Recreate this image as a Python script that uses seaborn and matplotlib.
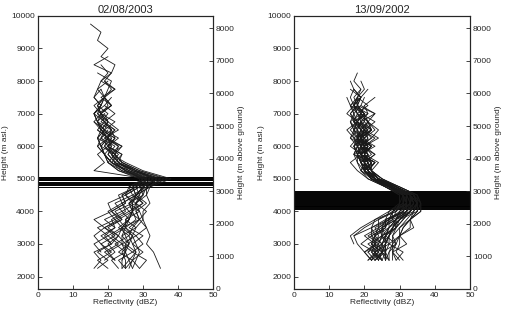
import numpy as np
import pandas as pd
import matplotlib
matplotlib.use('Agg')
import matplotlib.pyplot as plt
import seaborn as sns

nan = np.nan

# heights of the profile levels (m asl.)
left_height = [2250, 2500, 2750, 3000, 3250, 3500, 3750, 4000, 4250, 4500, 4750,
               5000, 5250, 5500, 5750, 6000, 6250, 6500, 6750, 7000, 7250, 7500,
               7750, 8000, 8250, 8500, 8750, 9000, 9250, 9500, 9750]
right_height = [2500, 2750, 3000, 3250, 3500, 3750, 4000, 4250, 4500, 4750, 5000,
                5250, 5500, 5750, 6000, 6250, 6500, 6750, 7000, 7250, 7500, 7750,
                8000, 8250]

# reflectivity profiles (dBZ), bottom level first
left_z = [
    [25, 23, 27, 24, 28, 25, 28, 27, 30, 27, 31, 33, 27, 22, 24, 20, 23, 19, 22, 18, 21, 18, 22, 19, 21, 22, 18, 20, 17, 18, 15],
    [17, 20, 17, 21, 18, 22, 21, 25, 24, 28, 27, 32, 25, 22, 21, 20, 22, 21, 19, 18, 20, 19, 17, 18, 21, 16, 20],
    [nan, 22, 20, 24, 21, 25, 23, 27, 26, 30, 29, 35, 28, 23, 21, 24, 19, 23, 20, 18, 21, 19, 22, 18, 20, 18],
    [35, 34, 33, 31, 32, 31, 30, 30, 32, 31, 31, 36, 29, 24, 22, 23, 20, 22, 19, 22, 19, 21],
    [20, 17, 21, 18, 16, 19, 16, 21, 20, 25, 26, 30, 23, 20, 19, 17, 18, 19, 17, 16, 18, 19, 20, 21, 17],
    [24, 24, 25, 26, 25, 24, 26, 27, 27, 28, 30, 31, 25, 21, 19, 21, 17, 19, 16, 18, 16, 19, 21, 19],
    [29, 27, 30, 27, 30, 26, 29, 28, 31, 28, 32, 34, 27, 23, 21, 19, 20, 21, 19, 17, 18, 16, 17, 20],
    [16, 18, 16, 21, 19, 22, 19, 24, 22, 27, 26, 31, 24, 20, 22, 18, 20, 17, 19, 16, 18, 16, 18],
    [25, 27, 23, 26, 24, 28, 25, 29, 26, 29, 28, 33, 26, 23, 22, 20, 21, 19, 20, 18, 17, 19, 18],
    [nan, 24, 25, 25, 23, 24, 26, 27, 27, 28, 30, 32, 26, 21, 23, 20, 22, 18, 20, 17, 21, 19],
    [nan, nan, 18, 16, 20, 17, 22, 20, 24, 23, 28, 30, 24, 21, 19, 18, 17, 19, 17, 16, 18, 19],
    [29, 31, 27, 30, 28, 31, 29, 31, 28, 31, 32, 38, 30, 25, 21, 23, 19, 22, 18, 20, 17, 19],
    [23, 21, 25, 22, 26, 23, 26, 24, 28, 25, 29, 29, 23, 20, 19, 18, 20, 18, 17, 16, 19],
    [27, 26, 25, 24, 24, 25, 26, 27, 28, 29, 30, 34, 27, 23, 24, 20, 22, 18, 20, 19],
    [nan, 19, 22, 20, 23, 19, 24, 21, 25, 24, 28, 30, 25, 22, 20, 21, 20, 18, 17, 18, 17],
    [25, 25, 24, 26, 27, 25, 25, 27, 26, 28, 30, 33, 28, 22, 20, 22, 18, 21, 17, 19],
    [nan, nan, 20, 18, 22, 19, 23, 21, 25, 24, 28, 30, 25, 21, 19, 18, 17, 18, 16],
    [24, 26, 28, 25, 27, 24, 29, 26, 30, 28, 32, 35, 28, 24, 22, 24, 20, 21],
    [nan, 22, 19, 23, 20, 24, 22, 26, 24, 28, 27, 31, 16, 19, 17, 20, 18, 20],
    [26, 27, 28, 27, 26, 27, 29, 28, 28, 30, 31, 37, 29, 24, 22, 19, 21],
    [nan, nan, nan, 21, 23, 20, 24, 22, 27, 25, 29, 31, 26, 21, 19, 17, 20, 17],
    [27, 28, 29, 28, 27, 28, 30, 29, 28, 30, 30, 34, 28, 23, 21],
]
right_z = [
    [22, 23, 24, 25, 27, 29, 31, 33, 32, 27, 22, 19, 21, 19, 17, 20, 17, 20, 18, 21, 18, 19, 17, 18],
    [25, 23, 27, 25, 29, 28, 33, 33, 33, 27, 23, 21, 20, 19, 20, 21, 19, 18, 19, 17, 18, 20, 19],
    [29, 28, 28, 30, 31, 33, 35, 36, 34, 29, 24, 21, 23, 19, 21, 18, 22, 19, 21, 17, 19, 17],
    [21, 23, 19, 22, 22, 27, 28, 32, 31, 26, 21, 19, 18, 17, 18, 16, 17, 18, 17, 16, 18],
    [24, 25, 26, 26, 28, 30, 33, 35, 34, 29, 23, 20, 22, 20, 22, 18, 21, 18, 20, 17, 19, 16],
    [nan, nan, 17, 16, 19, 23, 27, 31, 31, 26, 22, 20, 19, 18, 17, 18, 17, 16, 17, 16, 15],
    [30, 28, 32, 30, 34, 33, 36, 36, 35, 30, 25, 22, 20, 23, 20, 23, 19, 21, 19, 20],
    [23, 21, 25, 22, 26, 27, 31, 32, 32, 28, 23, 21, 20, 21, 19, 20, 18, 19, 18, 17, 18],
    [26, 26, 25, 27, 28, 29, 32, 34, 33, 28, 24, 21, 19, 21, 18, 22, 20, 23, 19],
    [22, 20, 24, 21, 25, 26, 31, 31, 32, 27, 22, 20, 18, 18, 19, 17, 17, 18, 16, 18],
    [27, 27, 28, 28, 30, 32, 34, 35, 33, 29, 24, 22, 20, 23, 19, 22, 24, 21],
    [25, 22, 25, 23, 27, 27, 32, 32, 32, 27, 22, 21, 20, 19, 18, 20, 19, 21, 20, 18, 19, 21],
    [nan, 20, 18, 17, 22, 23, 29, 30, 30, 26, 21, 18, 16, 19, 16, 18, 16, 18, 15, 17, 16, 17],
    [29, 31, 27, 30, 30, 33, 34, 35, 34, 29, 24, 22, 21, 20, 21, 19, 22, 20, 20],
    [24, 25, 25, 26, 27, 29, 32, 34, 33, 28, 23, 20, 22, 19, 23, 19, 22, 18, 20, 18],
    [21, 24, 21, 25, 24, 28, 28, 31, 31, 27, 23, 22, 21, 20, 20, 18, 19, 18],
    [26, 26, 27, 27, 29, 31, 33, 34, 33, 29, 25, 22, 24, 20, 22, 20, 23, 21, 23, 18, 19],
    [23, 25, 22, 25, 25, 29, 30, 33, 32, 27, 22, 20, 20, 19, 18, 19, 17, 16],
    [31, 29, 30, 30, 33, 33, 36, 36, 35, 30, 24, 21, 23, 19, 21, 19, 22],
    [22, 24, 23, 24, 23, 27, 28, 32, 31, 27, 22, 21, 19, 19, 18, 18, 19, 17, 17, 19],
    [25, 24, 25, 26, 27, 30, 32, 34, 33, 28, 23, 20, 21, 18, 20, 18, 21, 19, 23, 19, 20],
    [27, 25, 29, 26, 29, 29, 34, 35, 34, 29, 24, 22, 22, 21, 20, 19, 20],
    [24, 23, 22, 23, 24, 27, 30, 32, 32, 28, 23, 20, 22, 17, 20, 16, 18, 16, 19],
    [nan, 21, 23, 20, 24, 24, 29, 30, 31, 27, 23, 20, 19, 18, 17, 19, 18, 19],
    [28, 28, 29, 28, 29, 31, 33, 35, 34, 29, 24, 21, 23, 19, 22, 18, 21, 17, 20, 16, 19, 17, 16],
    [23, 25, 24, 25, 25, 28, 29, 32, 31, 27, 22, 20, 19, 18, 17, 19],
    [26, 25, 26, 27, 28, 30, 32, 33, 33, 28, 23, 20, 23, 19, 22, 19, 20, 17, 21, 20, 23],
    [22, 25, 22, 23, 22, 26, 27, 30, 30, 26, 22, 20, 20, 21, 19, 18, 20, 18],
    [25, 23, 26, 25, 29, 30, 35, 35, 35, 30, 25, 22, 20, 18, 21, 17, 20],
    [24, 22, 23, 22, 26, 26, 32, 32, 32, 28, 24, 22, 21, 20, 21, 20, 22, 21, 18, 17],
    [27, 26, 26, 27, 28, 30, 33, 33, 34, 29, 23, 19, 20, 17, 18, 17, 15, 18],
    [nan, nan, nan, 17, 20, 24, 28, 32, 31, 27, 22, 21, 20, 19, 19, 18, 18, 17, 18, 16],
    [26, 27, 29, 30, 31, 33, 35, 35, 34, 29, 24, 21, 22, 19, 20, 19, 22, 21, 19],
    [23, 26, 23, 26, 25, 29, 30, 33, 33, 28, 23, 21, 20, 20, 19, 21, 20, 19, 19, 18, 17, 19],
    [25, 26, 26, 27, 28, 30, 33, 35, 33, 28, 23, 21, 19, 22, 20, 24, 20, 21],
    [22, 20, 23, 23, 26, 26, 31, 31, 31, 27, 22, 20, 19, 18, 19, 18, 19, 17, 16, 18, 18],
]

# bright band heights (m asl.)
left_bb = [5060, 5040, 5020, 5000, 4975, 4950, 4905, 4870, 4840, 4810, 4735]
right_bb = [4630, 4600, 4575, 4540, 4510, 4480, 4450, 4420, 4390, 4360, 4330,
            4300, 4270, 4240, 4210, 4180, 4150, 4120, 4090, 4070]

titles = ['02/08/2003', '13/09/2002']
ground = 1620  # m asl.


def to_frame(heights, profiles):
    rows = []
    for i, prof in enumerate(profiles):
        for h, z in zip(heights, prof):
            if not np.isnan(z):
                rows.append((i, h, z))
    return pd.DataFrame(rows, columns=['profile', 'height', 'Z'])


sns.set_style('ticks')
plt.rcParams['font.family'] = ['Liberation Sans', 'DejaVu Sans']
plt.rcParams['font.size'] = 6

fig = plt.figure(figsize=(5.06, 3.12), dpi=100)
boxes = [[0.075, 0.074, 0.346, 0.875], [0.581, 0.074, 0.348, 0.875]]
data = [(left_height, left_z, left_bb), (right_height, right_z, right_bb)]

for box, (heights, profiles, bb), title in zip(boxes, data, titles):
    ax = fig.add_axes(box)
    for h in bb:
        ax.axhline(h, color='k', lw=0.7)
    df = to_frame(heights, profiles)
    sns.lineplot(data=df, x='Z', y='height', units='profile', estimator=None,
                 sort=False, color='0.1', lw=0.6, legend=False, ax=ax)
    ax.set_xlim(0, 50)
    ax.set_ylim(ground, 10000)
    ax.set_xticks(range(0, 51, 10))
    ax.set_yticks(range(2000, 10001, 1000))
    ax.set_xlabel('Reflectivity (dBZ)', labelpad=0)
    ax.set_ylabel('Height (m asl.)', labelpad=2)
    ax.set_title(title, fontsize=8, pad=2)
    ax.tick_params(direction='in', length=3, width=0.6, labelsize=6, pad=2)

    ax2 = ax.twinx()
    ax2.set_ylim(0, 10000 - ground)
    ax2.set_yticks(range(0, 8001, 1000))
    ax2.set_ylabel('Height (m above ground)', labelpad=2)
    ax2.tick_params(direction='in', length=3, width=0.6, labelsize=6, pad=2)
    for a in (ax, ax2):
        for s in a.spines.values():
            s.set_linewidth(0.8)
            s.set_visible(True)

fig.savefig('out.png', dpi=100)
